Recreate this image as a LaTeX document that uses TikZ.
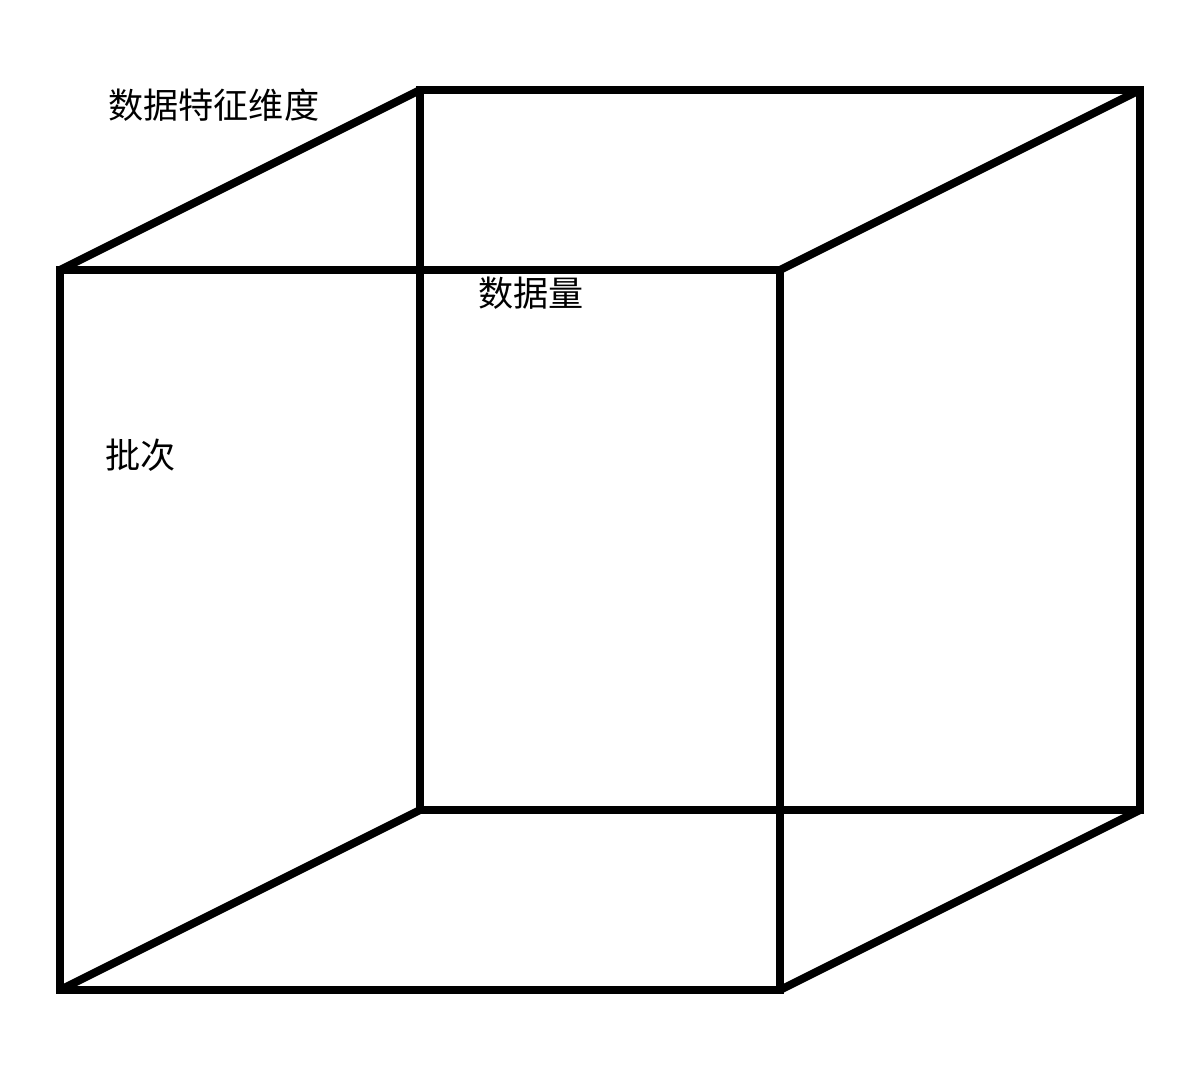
\documentclass[tikz,border=0pt]{standalone}
\usepackage{fontspec}
\newfontfamily\cjk{Noto Sans CJK SC}
\usetikzlibrary{positioning}

\tikzset{
    edge/.style={draw=black, line width=8*0.02cm},
    dimlabel/.style={anchor=west, inner sep=0pt, font=\cjk\fontsize{20}{24}\selectfont}
}

\begin{document}
\begin{tikzpicture}[x=0.02cm, y=-0.02cm]
        \useasboundingbox (0,0) rectangle (1200,1080);
        % front face
        \coordinate (fa) at (60,270);
        \coordinate (fb) at (780,270);
        \coordinate (fc) at (780,990);
        \coordinate (fd) at (60,990);
        % back face
        \coordinate (ba) at (420,90);
        \coordinate (bb) at (1140,90);
        \coordinate (bc) at (1140,810);
        \coordinate (bd) at (420,810);
        \draw [edge] (ba) -- (bb) -- (bc) -- (bd) -- cycle;
        \draw [edge] (fa) -- (fb) -- (fc) -- (fd) -- cycle;
        \draw [edge] (fa) -- (ba);
        \draw [edge] (fb) -- (bb);
        \draw [edge] (fc) -- (bc);
        \draw [edge] (fd) -- (bd);
        % labels
        \node (feat) at (108,105) [dimlabel] {数据特征维度};
        \node (amount) at (478,293) [dimlabel] {数据量};
        \node (batch) at (105,455) [dimlabel] {批次};
    \end{tikzpicture}
\end{document}
